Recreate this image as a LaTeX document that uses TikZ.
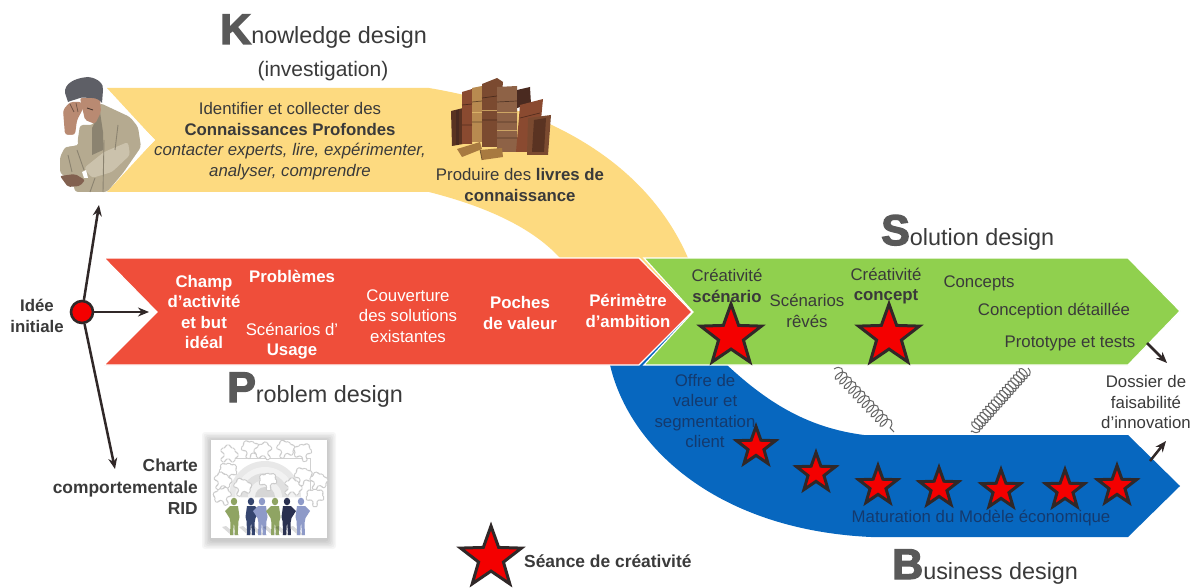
\documentclass[tikz,border=0pt]{standalone}
\usepackage{fontspec}
\setmainfont{Liberation Sans}
\newfontfamily\heavy[UprightFont=* Bold,FakeBold=3]{Liberation Sans}
\usetikzlibrary{shapes.geometric,decorations.pathmorphing,arrows.meta}
\definecolor{kyellow}{HTML}{FDDA80}
\definecolor{pred}{HTML}{EF4E3A}
\definecolor{sgreen}{HTML}{90D04E}
\definecolor{bblue}{HTML}{0767BF}
\definecolor{ink}{HTML}{3A3A3A}
\definecolor{navy}{HTML}{143A6E}
\definecolor{capgray}{HTML}{595959}
\definecolor{starred}{HTML}{F40000}
\definecolor{stardark}{HTML}{302828}
\definecolor{jacket}{HTML}{B5AA90}
\definecolor{jacketd}{HTML}{8B8370}
\definecolor{jacketl}{HTML}{CBC2AC}
\definecolor{skin}{HTML}{B98A72}
\definecolor{hair}{HTML}{5E5F66}
\definecolor{bka}{HTML}{5A3322}
\definecolor{bkb}{HTML}{8A4A30}
\definecolor{bkc}{HTML}{B88A50}
\definecolor{bkd}{HTML}{7B4A30}
\definecolor{bke}{HTML}{8E6246}
\definecolor{bkf}{HTML}{4A2A20}
\definecolor{bkg}{HTML}{A87A40}
\definecolor{polive}{HTML}{8FA463}
\definecolor{pnavy}{HTML}{35456F}
\definecolor{pperi}{HTML}{8E9AC8}
\definecolor{pdark}{HTML}{2A3050}
\newcommand{\hd}[2]{{\fontsize{43}{43}\heavy\color{capgray}#1}{\fontsize{23.4}{28}\selectfont\color{ink}#2}}
\tikzset{
  heading/.style={anchor=base west,inner sep=0pt},
  txt/.style={font=\fontsize{16.8}{20.6}\selectfont,align=center,inner sep=0pt,text=ink},
  wtxt/.style={txt,text=white},
  ntxt/.style={txt,text=navy},
  btxt/.style={txt,font=\fontsize{16.8}{20.6}\selectfont\bfseries},
  wbtxt/.style={btxt,text=white},
  bigstar/.style={star,star points=5,star point ratio=2.45,minimum size=64pt,inner sep=0pt,fill=starred,draw=stardark,line width=3pt},
  smallstar/.style={star,star points=5,star point ratio=2.45,minimum size=41pt,inner sep=0pt,fill=starred,draw=stardark,line width=3pt},
  arrow/.style={draw=stardark,line width=2.5pt,-{Stealth[length=11pt,width=9pt]}},
  band/.style={draw=white,line width=1.2pt,line join=miter},
  coilspring/.style={draw=black!60,line width=1pt,decorate,decoration={coil,aspect=0.55,amplitude=6pt}},
  puz/.style={draw=black!20,fill=white,line width=0.9pt,rounded corners=1.8pt},
}
\begin{document}
\begin{tikzpicture}[x=1pt,y=-1pt]
\useasboundingbox (0,0) rectangle (1196,588);
\fill[white] (0,0) rectangle (1196,588);

% bands
\fill[kyellow] (107,88) -- (429,88) .. controls (560,110) and (650,170) .. (688,258)
  -- (692,312) -- (640,258) -- (560,258)
  .. controls (530,225) and (480,205) .. (429,192) -- (107,192) -- (155,140) -- cycle;
\fill[bblue] (1128,435) -- (1180,486) -- (1128,537) -- (871,537)
  .. controls (720,530) and (630,450) .. (610,365) -- (692,314) -- (727,365)
  .. controls (770,405) and (810,428) .. (864,435) -- cycle;
\path[band,fill=sgreen] (644,258) -- (1128,258) -- (1180,311) -- (1128,365) -- (644,365) -- (693,312) -- cycle;
\path[band,fill=pred] (104,258) -- (639,258) -- (692,312) -- (639,365) -- (104,365) -- (157,312) -- cycle;

% man
\fill[white] (104,88) -- (155,140) -- (104,192) -- cycle;
\fill[jacket,rounded corners=3pt] (100,103) -- (130,117) -- (138,127) -- (141,147) -- (123,173) -- (107,192) -- (75,192) -- (73,182) -- (60,173) -- (60,157) -- (65,147) -- (77,145) -- (80,125) -- (93,125) -- cycle;
\fill[jacketd] (92,128) -- (100,112) -- (103,132) -- (103,150) -- (92,155) -- cycle;
\fill[jacketl,rounded corners=3pt] (84,168) -- (104,152) -- (128,142) -- (130,155) -- (112,172) -- (92,178) -- cycle;
\draw[jacketd,line width=0.9pt] (104,140) -- (103,192) (118,125) -- (115,150) (77,150) -- (84,170) (95,178) -- (90,192) (68,155) -- (72,172);
\fill[skin,rounded corners=2pt] (80,98) -- (100,98) -- (101,112) -- (95,124) -- (85,120) -- cycle;
\draw[black!60!skin,line width=0.8pt] (87,108) -- (93,110);
\fill[hair] (65,93) .. controls (64,84) and (74,78) .. (88,77) .. controls (98,78) and (104,84) .. (103,90)
  -- (102,103) .. controls (100,100) and (96,98) .. (92,98) .. controls (86,98) and (82,97) .. (80,98) .. controls (74,100) and (70,101) .. (68,102) -- cycle;
\fill[skin,rounded corners=3pt] (63,110) -- (70,102) -- (82,102) -- (84,107) -- (77,120) -- (75,135) -- (65,135) -- cycle;
\draw[black!40!skin,line width=0.7pt] (70,104) -- (74,112) (76,103) -- (78,112);
\fill[white,rounded corners=1.5pt] (64,135) -- (77,135) -- (78,145) -- (66,147) -- cycle;
\fill[black!30!skin,rounded corners=2pt] (60,176) -- (75,174) -- (85,180) -- (80,186) -- (68,187) -- cycle;
\fill[white] (82,172) -- (86,170) -- (88,178) -- (84,178) -- cycle;

% books
\fill[bka] (451,111) -- (463,108) -- (463,144) -- (452,146) -- cycle;
\fill[bkf] (456,110) rectangle (459,145);
\fill[bkb] (462,92) -- (472,89) -- (472,144) -- (462,144) -- cycle;
\fill[bkc] (472,88) -- (482,86) -- (482,142) -- (472,142) -- cycle;
\fill[bkd] (482,84) -- (497,78) -- (503,82) -- (497,147) -- (482,147) -- cycle;
\fill[bke] (497,87) -- (517,86) -- (517,152) -- (497,152) -- cycle;
\fill[bkf] (517,90) -- (530,87) -- (531,104) -- (517,108) -- cycle;
\fill[bkb] (520,105) -- (543,99) -- (541,120) -- (528,152) -- (516,152) -- cycle;
\fill[bkd] (528,118) -- (551,115) -- (548,155) -- (527,155) -- cycle;
\fill[bka] (534,120) -- (546,118) -- (544,152) -- (532,152) -- cycle;
\fill[bkg] (457,149) -- (480,142) -- (482,149) -- (462,157) -- cycle;
\fill[bkg] (480,150) -- (502,148) -- (503,157) -- (482,160) -- cycle;
\draw[black!50!bka,opacity=.6,line width=0.7pt] (462,105) -- (472,104) (462,125) -- (472,125) (472,102) -- (482,101) (472,122) -- (482,122) (482,98) -- (497,96) (482,120) -- (497,120) (497,102) -- (517,101) (497,122) -- (517,122) (497,138) -- (517,138) (520,118) -- (540,113) (480,150) -- (482,160);
\draw[kyellow!70!bkc,opacity=.7,line width=0.7pt] (472,112) -- (482,112) (482,110) -- (497,110) (497,112) -- (517,112) (497,130) -- (517,130);

% team picture
\foreach \g in {9,7.5,6,4.5,3,1.5}{\fill[black,opacity=0.035,rounded corners=3pt] (211-\g,440-\g+1) rectangle (327+\g,538+\g+2);}
\fill[white] (211,440) rectangle (327,538);
\draw[black!18,line width=0.7pt] (235,458) -- (310,458) -- (310,497);
\foreach \r/\c in {36/9,30/5,24/12,17/6,10/16}{\fill[black!\c] (265-\r,497) arc (180:360:\r);}
\foreach \px/\py/\a in {228/455/0,250/450/30,264/452/80,285/450/20,303/453/60,228/472/40,222/482/10,223/497/70,242/488/20,268/482/50,292/488/0,303/477/30,318/482/15,315/498/45}{
  \draw[puz,shift={(\px,\py)},rotate=\a] (-7,-7) -- (-2,-7) -- (-3,-10) -- (3,-10) -- (2,-7) -- (7,-7) -- (7,-2) -- (10,-3) -- (10,3) -- (7,2) -- (7,7) -- (2,7) -- (3,4) -- (-3,4) -- (-2,7) -- (-7,7) -- (-7,2) -- (-4,3) -- (-4,-3) -- (-7,-2) -- cycle;
}
\foreach \px/\c/\m in {234/polive/1,251/pnavy/-1,262/pperi/1,275/polive/1,287/pdark/-1,301/pperi/-1}{
  \fill[black,opacity=.14,shift={(\px,535)}] (-3,0) -- (3,0) -- (-8,-9) -- (-12,-8) -- cycle;
  \fill[\c,shift={(\px,535)},xscale=\m] (0,-33.5) ellipse (3.2 and 3.8)
    (-4,-29) -- (4,-29) -- (5.5,-18) -- (4.5,-14) -- (3.8,-1) -- (4.5,0) -- (0.8,0) -- (0,-14) -- (-1,0) -- (-4,0) -- (-3.5,-12) -- (-4.5,-17) -- (-9,-24) -- (-4,-29) -- cycle;
}

% springs
\coordinate (sa1) at (834,369);
\coordinate (sa2) at (894,432);
\coordinate (sb1) at (1028,368);
\coordinate (sb2) at (971,432);
\draw[coilspring,decoration={segment length=6.5pt}] (sa1) -- (sa2);
\draw[coilspring,decoration={segment length=4.2pt}] (sb1) -- (sb2);

% stars
\node[bigstar] (s1) at (731,336) {};
\node[bigstar] (s2) at (889,336) {};
\foreach \n/\x/\y in {a/756/447,b/816/473,c/878/486,d/939/488,e/1001/490,f/1065/490,g/1117/486}{
  \node[smallstar] (t\n) at (\x,\y) {};
}
\node[bigstar] (legend) at (491,558) {};

% headings
\node[heading] (hk) at (220,44) {\hd{K}{nowledge design}};
\node[txt,font=\fontsize{21}{25}\selectfont] (inv) at (323,71) {(investigation)};
\node[heading] (hs) at (881,245) {\hd{S}{olution design}};
\node[heading] (hp) at (227,402) {\hd{P}{roblem design}};
\node[heading] (hb) at (892,579) {\hd{B}{usiness design}};

% texts
\node[txt] (k1) at (290,141) {Identifier et collecter des\\\textbf{Connaissances Profondes}\\\textit{contacter experts, lire, expérimenter,}\\\textit{analyser, comprendre}};
\node[txt] (k2) at (520,185) {Produire des \textbf{livres de}\\\textbf{connaissance}};

\node[wbtxt] (p1) at (204,312) {Champ\\d’activité\\et but\\idéal};
\node[wbtxt] (p2) at (292,276) {Problèmes};
\node[wtxt] (p3) at (292,341) {Scénarios d’\\\textbf{Usage}};
\node[wtxt] (p4) at (408,316) {Couverture\\des solutions\\existantes};
\node[wbtxt] (p5) at (520,313) {Poches\\de valeur};
\node[wbtxt] (p6) at (628,311) {Périmètre\\d’ambition};

\node[txt] (g1) at (727,286) {Créativité\\\textbf{scénario}};
\node[txt] (g2) at (807,311) {Scénarios\\rêvés};
\node[txt] (g3) at (886,286) {Créativité\\\textbf{concept}};
\node[txt] (g4) at (979,283) {Concepts};
\node[txt] (g5) at (1054,311) {Conception détaillée};
\node[txt] (g6) at (1070,343) {Prototype et tests};

\node[ntxt] (b1) at (705,411) {Offre de\\valeur et\\segmentation\\client};
\node[ntxt] (b2) at (981,518) {Maturation du Modèle économique};

\node[txt] (dos) at (1146,402) {Dossier de\\faisabilité\\d’innovation};
\node[btxt] (idee) at (37,316) {Idée\\initiale};
\node[btxt,align=right,anchor=east,font=\fontsize{17.4}{21.4}\selectfont\bfseries] (charte) at (198,487) {Charte\\comportementale\\RID};
\node[btxt,anchor=west,font=\fontsize{17.4}{20}\selectfont\bfseries] (seance) at (524,561) {Séance de créativité};

% connectors
\node[circle,fill=starred,draw=stardark,line width=2.6pt,minimum size=22pt,inner sep=0pt] (dot) at (82,312) {};
\coordinate (tman) at (99,205);
\coordinate (tred) at (149,312);
\coordinate (tcharte) at (115,469);
\coordinate (a1) at (1147,343);
\coordinate (a2) at (1167,363);
\coordinate (a3) at (1150,461);
\coordinate (a4) at (1166,441);
\draw[arrow] (dot) -- (tman);
\draw[arrow] (dot) -- (tred);
\draw[arrow] (dot) -- (tcharte);
\draw[arrow] (a1) -- (a2);
\draw[arrow] (a3) -- (a4);
\end{tikzpicture}
\end{document}
